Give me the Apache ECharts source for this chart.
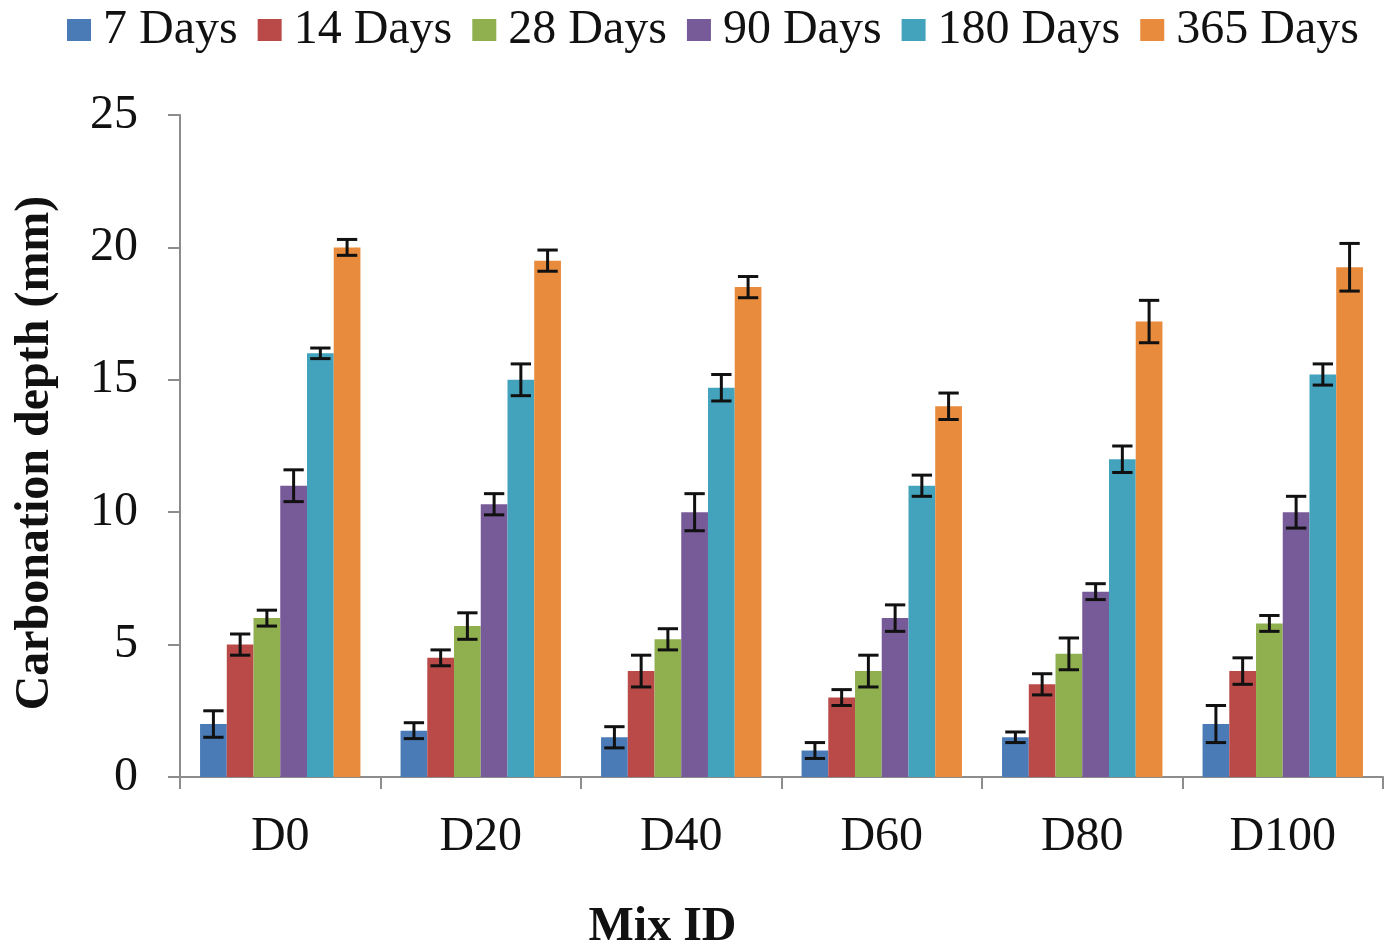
<!DOCTYPE html>
<html>
<head>
<meta charset="utf-8">
<script src="https://cdn.jsdelivr.net/npm/echarts@6/dist/echarts.min.js"></script>
<style>
html,body{margin:0;padding:0;background:#fff;}
#main{width:1399px;height:946px;}
</style>
</head>
<body>
<div id="main"></div>
<script>
var categories = ['D0','D20','D40','D60','D80','D100'];
var seriesNames = ['7 Days','14 Days','28 Days','90 Days','180 Days','365 Days'];
var days7   = [2.0, 1.75, 1.5, 1.0, 1.5, 2.0];
var days14  = [5.0, 4.5, 4.0, 3.0, 3.5, 4.0];
var days28  = [6.0, 5.7, 5.2, 4.0, 4.65, 5.8];
var days90  = [11.0, 10.3, 10.0, 6.0, 7.0, 10.0];
var days180 = [16.0, 15.0, 14.7, 11.0, 12.0, 15.2];
var days365 = [20.0, 19.5, 18.5, 14.0, 17.2, 19.25];
var err7   = [0.5, 0.3, 0.4, 0.3, 0.2, 0.7];
var err14  = [0.4, 0.3, 0.6, 0.3, 0.4, 0.5];
var err28  = [0.3, 0.5, 0.4, 0.6, 0.6, 0.3];
var err90  = [0.6, 0.4, 0.7, 0.5, 0.3, 0.6];
var err180 = [0.2, 0.6, 0.5, 0.4, 0.5, 0.4];
var err365 = [0.3, 0.4, 0.4, 0.5, 0.8, 0.9];
var yTicks = [0, 5, 10, 15, 20, 25];

var colors = ['#4A7BB7','#B94A48','#90B050','#775A98','#43A2BC','#E88B3C'];
var values = [days7, days14, days28, days90, days180, days365];
var errors = [err7, err14, err28, err90, err180, err365];
var nS = values.length;
var catGap = 0.2;

var chart = echarts.init(document.getElementById('main'));
var series = [];
values.forEach(function (vals, i) {
  series.push({
    name: seriesNames[i],
    type: 'bar',
    data: vals,
    barGap: '0%',
    barCategoryGap: '20%',
    itemStyle: { color: colors[i] },
    z: 2
  });
});
values.forEach(function (vals, i) {
  var data = vals.map(function (v, j) { return [j, v - errors[i][j], v + errors[i][j]]; });
  series.push({
    type: 'custom',
    name: seriesNames[i],
    data: data,
    z: 5,
    silent: true,
    renderItem: function (params, api) {
      var x = api.value(0);
      var lowP = api.coord([x, api.value(1)]);
      var highP = api.coord([x, api.value(2)]);
      var band = api.size([1, 0])[0];
      var bw = band * (1 - catGap) / nS;
      var cx = lowP[0] - band * (1 - catGap) / 2 + bw * (i + 0.5);
      var half = bw * 0.38;
      var st = { stroke: '#111', lineWidth: 3 };
      return {
        type: 'group',
        children: [
          { type: 'line', shape: { x1: cx, y1: highP[1], x2: cx, y2: lowP[1] }, style: st },
          { type: 'line', shape: { x1: cx - half, y1: highP[1], x2: cx + half, y2: highP[1] }, style: st },
          { type: 'line', shape: { x1: cx - half, y1: lowP[1], x2: cx + half, y2: lowP[1] }, style: st }
        ]
      };
    }
  });
});

var font = '"Liberation Serif", "Times New Roman", serif';
chart.setOption({
  animation: false,
  color: colors,
  textStyle: { fontFamily: font },
  legend: {
    data: seriesNames,
    top: 1,
    left: 62,
    itemWidth: 24,
    itemHeight: 22,
    itemGap: 20,
    icon: 'rect',
    textStyle: { fontFamily: font, fontSize: 48, color: '#111', padding: [0, 0, 0, 7] }
  },
  grid: { left: 180, right: 16, top: 115, bottom: 169, containLabel: false, outerBoundsMode: 'none' },
  xAxis: {
    type: 'category',
    data: categories,
    name: 'Mix ID',
    nameLocation: 'middle',
    nameGap: 127,
    nameTextStyle: { fontFamily: font, fontSize: 48, fontWeight: 'bold', color: '#111', padding: [0, 238, 0, 0] },
    axisLine: { lineStyle: { color: '#8c8c8c', width: 2 } },
    axisTick: { show: true, length: 12, lineStyle: { color: '#8c8c8c', width: 2 } },
    axisLabel: { fontFamily: font, fontSize: 48, color: '#111', margin: 36 }
  },
  yAxis: {
    type: 'value',
    min: yTicks[0],
    max: yTicks[yTicks.length - 1],
    interval: 5,
    name: 'Carbonation depth (mm)',
    nameLocation: 'middle',
    nameGap: 120,
    nameRotate: 90,
    nameTextStyle: { fontFamily: font, fontSize: 48, fontWeight: 'bold', color: '#111', padding: [0, 14, 0, 0] },
    axisLine: { show: true, lineStyle: { color: '#8c8c8c', width: 2 } },
    axisTick: { show: true, length: 12, lineStyle: { color: '#8c8c8c', width: 2 } },
    splitLine: { show: false },
    axisLabel: { fontFamily: font, fontSize: 48, color: '#111', margin: 42 }
  },
  series: series
});
</script>
</body>
</html>
